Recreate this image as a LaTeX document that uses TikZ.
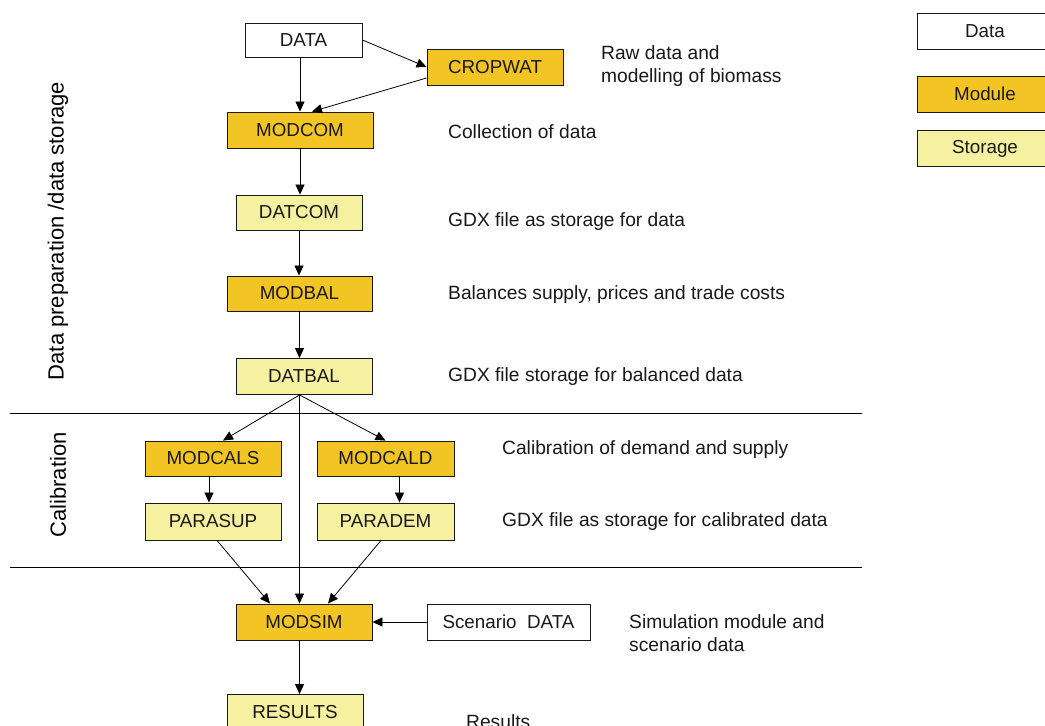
\documentclass[tikz,border=0pt]{standalone}
\usepackage{fontspec}
\setmainfont{Liberation Sans}
\usetikzlibrary{arrows.meta,calc}
\definecolor{modfill}{RGB}{242,197,36}
\definecolor{storfill}{RGB}{246,241,160}
\definecolor{inkcol}{RGB}{25,25,25}
\begin{document}
\begin{tikzpicture}[x=1pt,y=-1pt,
  box/.style={draw=inkcol,line width=0.9pt,inner sep=0pt,minimum width=136pt,minimum height=36pt,
    text=inkcol,font=\fontsize{18.8}{22}\selectfont},
  databox/.style={box,fill=white},
  modbox/.style={box,fill=modfill},
  storbox/.style={box,fill=storfill},
  note/.style={anchor=west,inner sep=0pt,align=left,text=inkcol,
    font=\fontsize{19.2}{23}\selectfont},
  side/.style={rotate=90,inner sep=0pt,text=black,font=\fontsize{22}{26}\selectfont},
  arr/.style={draw=black,line width=0.8pt,-{Triangle[length=10pt,width=9pt]}},
  sep/.style={draw=black,line width=0.8pt}]
\clip (0,0) rectangle (1045,726);
\fill[white] (0,0) rectangle (1045,726);

% section separators
\coordinate (s1l) at (10,413);  \coordinate (s1r) at (862,413);
\coordinate (s2l) at (10,567);  \coordinate (s2r) at (862,567);
\draw[sep] (s1l) -- (s1r);
\draw[sep] (s2l) -- (s2r);

% section titles
\node[side] (tprep) at (58,231) {Data preparation /data storage};
\node[side] (tcal) at (58,485) {Calibration};

% flow boxes
\node[databox,minimum width=117pt,minimum height=34pt] (data) at (303.5,40) {DATA};
\node[modbox,minimum height=36pt] (cropwat) at (495,67) {CROPWAT};
\node[modbox,minimum width=146pt] (modcom) at (300,130) {MODCOM};
\node[storbox,minimum width=126pt,minimum height=35pt] (datcom) at (299,212.5) {DATCOM};
\node[modbox,minimum width=145pt,minimum height=35pt] (modbal) at (299.5,293.5) {MODBAL};
\node[storbox] (datbal) at (304,376.5) {DATBAL};
\node[modbox,minimum height=35pt] (modcals) at (213,458.5) {MODCALS};
\node[modbox,minimum width=137pt,minimum height=35pt] (modcald) at (385.5,458.5) {MODCALD};
\node[storbox,minimum height=37pt] (parasup) at (213,521.5) {PARASUP};
\node[storbox,minimum width=137pt,minimum height=37pt] (parademx) at (385.5,521.5) {PARADEM};
\node[modbox] (modsim) at (304,622) {MODSIM};
\node[databox,minimum width=163pt] (scen) at (508.5,622) {Scenario~~DATA};
\node[storbox] (results) at (295,712.5) {RESULTS};

% legend
\node[databox] (lgdata) at (985,31) {Data};
\node[modbox] (lgmod) at (985,94) {Module};
\node[storbox] (lgstor) at (985,148.5) {Storage};

% descriptions
\node[note] (n1) at (601,66) {Raw data and\\modelling of biomass};
\node[note] (n2) at (448,131.5) {Collection of data};
\node[note] (n3) at (448,221.5) {GDX file as storage for data};
\node[note] (n4) at (448,294.5) {Balances supply, prices and trade costs};
\node[note] (n5) at (448,376.5) {GDX file storage for balanced data};
\node[note] (n6) at (502,449.5) {Calibration of demand and supply};
\node[note] (n7) at (502,521.5) {GDX file as storage for calibrated data};
\node[note] (n8) at (629,633) {Simulation module and\\scenario data};
\node[note] (n9) at (466,722) {Results};

% connectors
\coordinate (split) at ($(datbal.south)+(-4.5,0)$);
\draw[arr] (modcom.north |- data.south) -- (modcom.north);
\draw[arr] (data.east) -- (cropwat.west);
\draw[arr] ($(cropwat.west)+(0,11)$) -- ($(modcom.north)+(12,0)$);
\draw[arr] (modcom.south) -- (modcom.south |- datcom.north);
\draw[arr] (datcom.south) -- (datcom.south |- modbal.north);
\draw[arr] (modbal.south) -- (modbal.south |- datbal.north);
\draw[arr] (split) -- ($(modcals.north)+(10,0)$);
\draw[arr] (split) -- (modcald.north);
\draw[arr] (split) -- (split |- modsim.north);
\draw[arr] ($(modcals.south)+(-4,0)$) -- ($(parasup.north)+(-4,0)$);
\draw[arr] ($(modcald.south)+(14,0)$) -- ($(parademx.north)+(14,0)$);
\draw[arr] ($(parasup.south)+(4,0)$) -- ($(modsim.north)+(-34,0)$);
\draw[arr] ($(parademx.south)+(-4.5,0)$) -- ($(modsim.north)+(24,0)$);
\draw[arr] (scen.west) -- (modsim.east);
\draw[arr] (split |- modsim.south) -- (split |- results.north);
\end{tikzpicture}
\end{document}
